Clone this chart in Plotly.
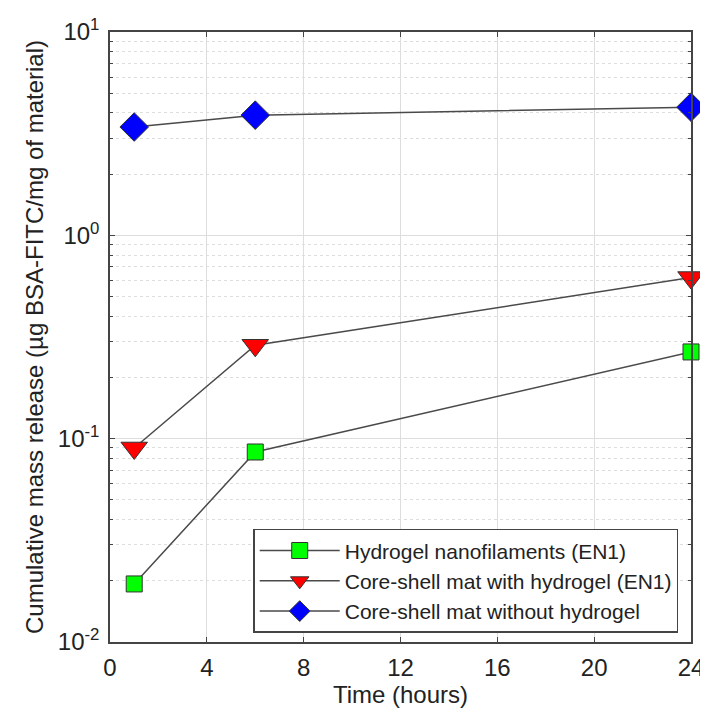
import plotly.graph_objects as go

time_h = [1, 6, 24]
hydrogel_nano = [0.0193, 0.086, 0.267]
core_shell_with = [0.090, 0.288, 0.62]
core_shell_without = [3.41, 3.9, 4.27]

series_names = ["Hydrogel nanofilaments (EN1)",
                "Core-shell mat with hydrogel (EN1)",
                "Core-shell mat without hydrogel"]
x_ticks = [0, 4, 8, 12, 16, 20, 24]
y_tickvals = [0.01, 0.1, 1, 10]
y_ticktext = ["10<sup>-2</sup>", "10<sup>-1</sup>", "10<sup>0</sup>", "10<sup>1</sup>"]

FONT = "Liberation Sans, Arial, sans-serif"
line_col = "#4a4a4a"

fig = go.Figure()
styles = [
    (hydrogel_nano, "square", "#00ff00", 16),
    (core_shell_with, "triangle-down", "#ff0000", 23),
    (core_shell_without, "diamond", "#0000ff", 22),
]
for (vals, sym, col, sz), name in zip(styles, series_names):
    fig.add_trace(go.Scatter(
        x=time_h, y=vals, name=name, mode="lines+markers",
        line=dict(color=line_col, width=1.5),
        marker=dict(symbol=sym, color=col, size=sz,
                    line=dict(color="#333333", width=1)),
        cliponaxis=False,
    ))

# page body adds an 8px offset, so the figure is 8px smaller
fig.update_layout(
    width=700, height=705,
    margin=dict(l=102, r=17, t=24, b=71),
    paper_bgcolor="white", plot_bgcolor="white",
    font=dict(family=FONT, size=24, color="#222222"),
    showlegend=True,
    legend=dict(
        x=0.978, y=0.015, xanchor="right", yanchor="bottom",
        bgcolor="white", bordercolor="#444444", borderwidth=1.5,
        font=dict(family=FONT, size=21, color="#222222"),
        tracegroupgap=0, itemwidth=80,
    ),
)
fig.update_xaxes(
    range=[0, 24], tickvals=x_ticks, automargin=False,
    ticks="inside", ticklen=5, tickcolor="#444444",
    showline=True, linecolor="#444444", linewidth=1.5, mirror="ticks",
    showgrid=True, gridcolor="#dddddd", gridwidth=1,
    zeroline=False, ticklabelstandoff=3,
    title=dict(text="Time (hours)", font=dict(size=24), standoff=0),
    tickfont=dict(size=24),
)
fig.update_yaxes(
    type="log", range=[-2, 1], automargin=False,
    tickvals=y_tickvals, ticktext=y_ticktext,
    ticks="inside", ticklen=5, tickcolor="#444444",
    showline=True, linecolor="#444444", linewidth=1.5, mirror="ticks",
    showgrid=True, gridcolor="#dddddd", gridwidth=1,
    minor=dict(dtick="D1", ticks="inside", ticklen=3, tickcolor="#444444",
               showgrid=True, gridcolor="#dddddd", griddash="dot", gridwidth=1),
    zeroline=False, ticklabelstandoff=4,
    title=dict(text="Cumulative mass release (µg BSA-FITC/mg of material)",
               font=dict(size=24), standoff=7),
    tickfont=dict(size=24),
)

fig.write_html("out.html")
